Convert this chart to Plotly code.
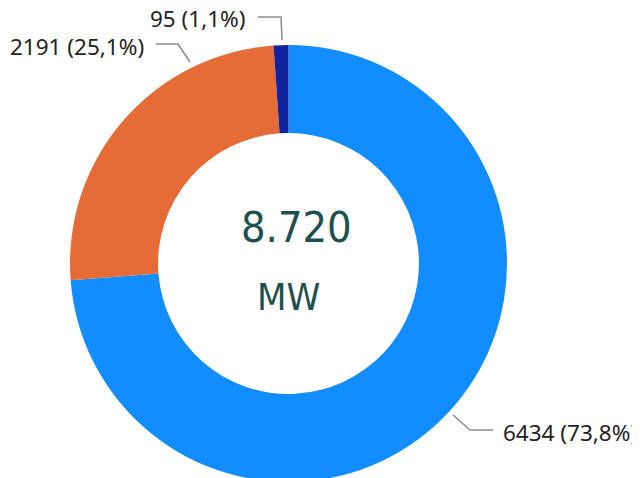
import plotly.graph_objects as go

# Data
categories = ["A", "B", "C"]
values = [6434, 2191, 95]
colors = ["#118DFF", "#E66C37", "#12239E"]
total_text = "8.720"
unit_text = "MW"

W, H = 640, 490
OFF = 8  # page body margin


def px(x):
    return (x - OFF) / W


def py(y):
    return 1 - (y - OFF) / H


CX, CY, R = 288.5, 263.5, 218.5

fig = go.Figure()
fig.add_trace(go.Pie(
    labels=categories,
    values=values,
    hole=0.597,
    sort=False,
    direction="clockwise",
    rotation=0,
    marker=dict(colors=colors, line=dict(width=0)),
    textinfo="none",
    hoverinfo="label+value+percent",
    showlegend=False,
    domain=dict(x=[px(CX - R), px(CX + R)], y=[py(CY + R), py(CY - R)]),
))

total = sum(values)
# label placement (layout)
label_layout = [
    (501, 432, "left", [(453, 415), (470, 430), (493, 430)]),
    (146, 46, "right", [(156, 44), (178, 44), (190, 62)]),
    (248, 18, "right", [(258, 17), (281, 17), (282, 40)]),
]
annotations = []
shapes = []
for v, (lx, ly, xa, pts) in zip(values, label_layout):
    pct = f"{v / total * 100:.1f}".replace(".", ",")
    annotations.append(dict(
        x=px(lx), y=py(ly), xref="paper", yref="paper",
        xanchor=xa, yanchor="middle", showarrow=False,
        text=f"{v} ({pct}%)",
        font=dict(family="Noto Sans", size=22.5, color="#252423"),
    ))
    path = "M " + " L ".join(f"{px(a)},{py(b)}" for a, b in pts)
    shapes.append(dict(type="path", xref="paper", yref="paper", path=path,
                       line=dict(color="#8C8C8C", width=1.5)))

annotations.append(dict(
    x=px(296), y=py(227), xref="paper", yref="paper", showarrow=False,
    xanchor="center", yanchor="middle", text=total_text,
    font=dict(family="DejaVu Sans Condensed, Roboto", size=43, color="#1F5050"),
))
annotations.append(dict(
    x=px(288), y=py(297), xref="paper", yref="paper", showarrow=False,
    xanchor="center", yanchor="middle", text=unit_text,
    font=dict(family="DejaVu Sans Condensed, Roboto", size=38, color="#1F5050"),
))

fig.update_layout(
    width=W, height=H,
    margin=dict(l=0, r=0, t=0, b=0),
    paper_bgcolor="white",
    plot_bgcolor="white",
    separators=",.",
    annotations=annotations,
    shapes=shapes,
)

fig.write_html("out.html")
